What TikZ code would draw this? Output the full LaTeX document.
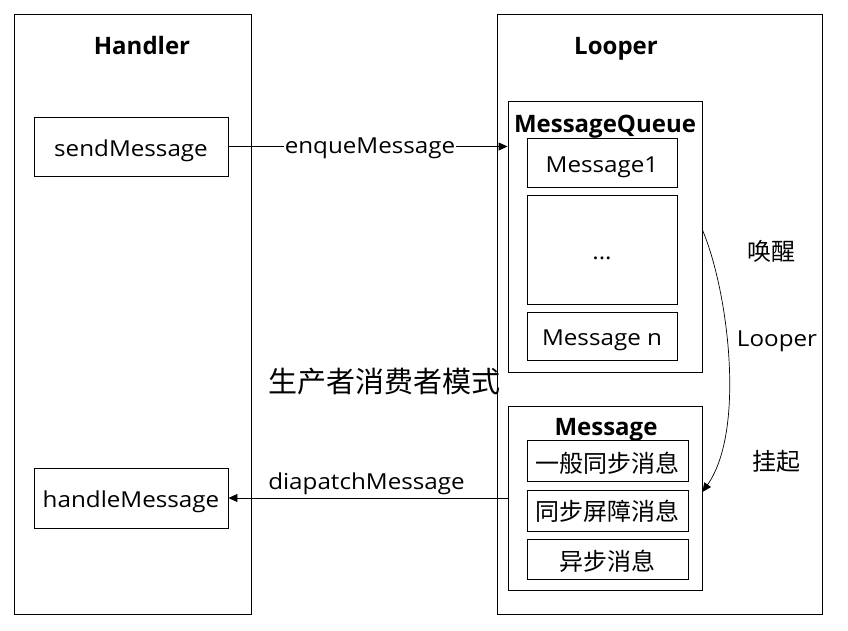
\documentclass[tikz,border=0pt]{standalone}
\usepackage{fontspec}
\setmainfont{Open Sans}
\newfontfamily\reg{Open Sans}[FakeStretch=1.1]
\newfontfamily\cjk{Noto Sans CJK SC}
\usetikzlibrary{arrows.meta}
\begin{document}
\begin{tikzpicture}[x=1pt,y=-1pt,
  box/.style={draw=black,line width=0.9pt,inner sep=0pt,fill=white},
  lbl/.style={inner sep=0pt,anchor=base,font=\fontsize{22}{24}\selectfont\reg},
  ttl/.style={inner sep=0pt,anchor=base,font=\fontsize{24}{26}\selectfont\bfseries},
  zh/.style={inner sep=0pt,anchor=base,font=\fontsize{24}{26}\selectfont\cjk},
  conn/.style={line width=0.9pt,-{Triangle[length=9pt,width=8pt]}}]
\useasboundingbox[fill=white] (0,0) rectangle (848,630);
% outer boxes
\node[box,minimum width=237pt,minimum height=600pt] (handler) at (132.5,314) {};
\node[box,minimum width=325pt,minimum height=600pt] (looper) at (659.5,314) {};
\node[ttl] (handlerT) at (142,54) {Handler};
\node[ttl] (looperT) at (616,54) {Looper};
% handler boxes
\node[box,minimum width=194pt,minimum height=59pt] (send) at (131,146.5) {};
\node[lbl] at (131,156) {sendMessage};
\node[box,minimum width=194pt,minimum height=60pt] (handle) at (131,498) {};
\node[lbl] at (131,507.5) {handleMessage};
% message queue
\node[box,minimum width=194pt,minimum height=271pt] (mq) at (605,236.5) {};
\node[ttl] (mqT) at (605,132) {MessageQueue};
\node[box,minimum width=150pt,minimum height=49pt] (m1) at (602,162.5) {};
\node[lbl] at (602,172) {Message1};
\node[box,minimum width=150pt,minimum height=109pt] (mdots) at (602,249.5) {};
\node[lbl] at (602,259) {...};
\node[box,minimum width=150pt,minimum height=48pt] (mn) at (602,336) {};
\node[lbl] at (602,345.5) {Message n};
% message
\node[box,minimum width=194pt,minimum height=184pt] (msg) at (605,498) {};
\node[ttl] (msgT) at (606,435) {Message};
\node[box,minimum width=161pt,minimum height=41pt] (t1) at (607.5,460.5) {};
\node[zh] at (607.5,472.5) {一般同步消息};
\node[box,minimum width=161pt,minimum height=41pt] (t2) at (607.5,510.5) {};
\node[zh] at (607.5,520) {同步屏障消息};
\node[box,minimum width=161pt,minimum height=40pt] (t3) at (607.5,559) {};
\node[zh] at (607.5,570.5) {异步消息};
% connectors
\draw[conn] (send.east) -- (send.east -| mq.west);
\node[lbl,fill=white,inner xsep=1pt,inner ysep=3pt] (enq) at (370,153) {enqueMessage};
\draw[conn] (msg.west) -- (msg.west -| handle.east);
\node[lbl] (disp) at (366.5,489.5) {diapatchMessage};
\draw[line width=0.7pt,-{Triangle[length=9pt,width=8pt]}] ([yshift=6.5pt]mq.east) .. controls (728,290) and (746,430) .. ([yshift=6pt]msg.east);
% side labels
\node[zh] (wake) at (771,260) {唤醒};
\node[lbl] (loopL) at (777,346) {Looper};
\node[zh] (hang) at (776,470) {挂起};
\node[inner sep=0pt,anchor=base,font=\fontsize{29}{31}\selectfont\cjk] (pc) at (384,392) {生产者消费者模式};
\end{tikzpicture}
\end{document}
